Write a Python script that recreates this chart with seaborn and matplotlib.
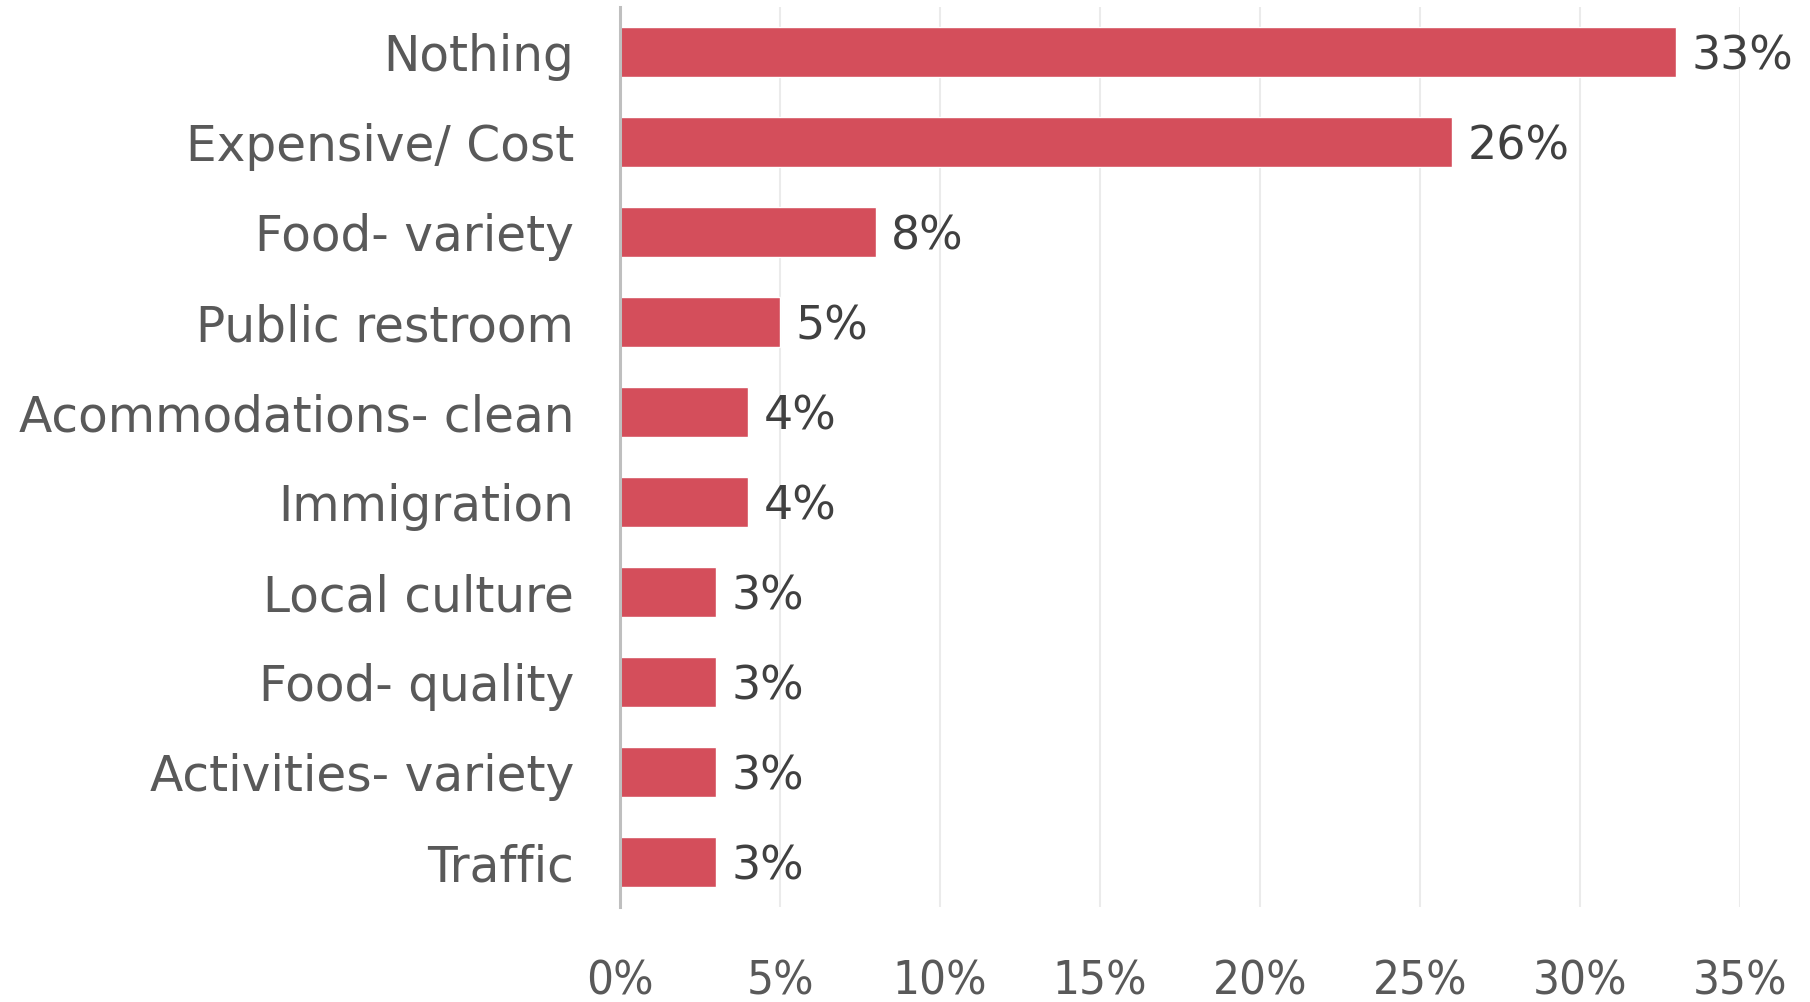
import matplotlib
matplotlib.use("Agg")
import matplotlib.pyplot as plt
import seaborn as sns
import pandas as pd
from matplotlib.ticker import FuncFormatter, MultipleLocator

categories = ["Nothing", "Expensive/ Cost", "Food- variety", "Public restroom",
              "Acommodations- clean", "Immigration", "Local culture",
              "Food- quality", "Activities- variety", "Traffic"]
values = [33, 26, 8, 5, 4, 4, 3, 3, 3, 3]

df = pd.DataFrame({"category": categories, "value": values})

sns.set_theme(style="white")
plt.rcParams["font.family"] = ["DejaVu Sans"]

fig = plt.figure(figsize=(18.1, 10.02), dpi=100)
ax = fig.add_axes([620 / 1810, 1 - 907 / 1002, 1120 / 1810, 900 / 1002])

sns.barplot(data=df, x="value", y="category", orient="h", color="#D44E5B",
            saturation=1, width=0.55, ax=ax)

ax.set_xlim(0, 35)
ax.set_ylim(9.5, -0.5)
ax.xaxis.set_major_locator(MultipleLocator(5))
ax.xaxis.set_major_formatter(FuncFormatter(lambda v, _: f"{v:.0f}%"))
ax.grid(axis="x", color="#EBEBEB", linewidth=1.5)
ax.set_axisbelow(True)

for s in ["top", "right", "bottom"]:
    ax.spines[s].set_visible(False)
ax.spines["left"].set_color("#BFBFBF")
ax.spines["left"].set_linewidth(2.2)
ax.spines["left"].set_zorder(5)

ax.set_xlabel("")
ax.set_ylabel("")
ax.tick_params(axis="y", length=0, pad=33, labelsize=35, labelcolor="#595959")
ax.tick_params(axis="x", length=0, pad=38, labelsize=34, labelcolor="#595959")
for lbl in ax.get_xticklabels():
    lbl.set_fontstretch("condensed")
    lbl.set_fontweight("light")

for i, v in enumerate(values):
    ax.annotate(f"{v}%", (v, i), xytext=(11, 0), textcoords="offset points",
                va="center_baseline", ha="left", fontsize=33, color="#404040")

fig.savefig("out.png", dpi=100)
